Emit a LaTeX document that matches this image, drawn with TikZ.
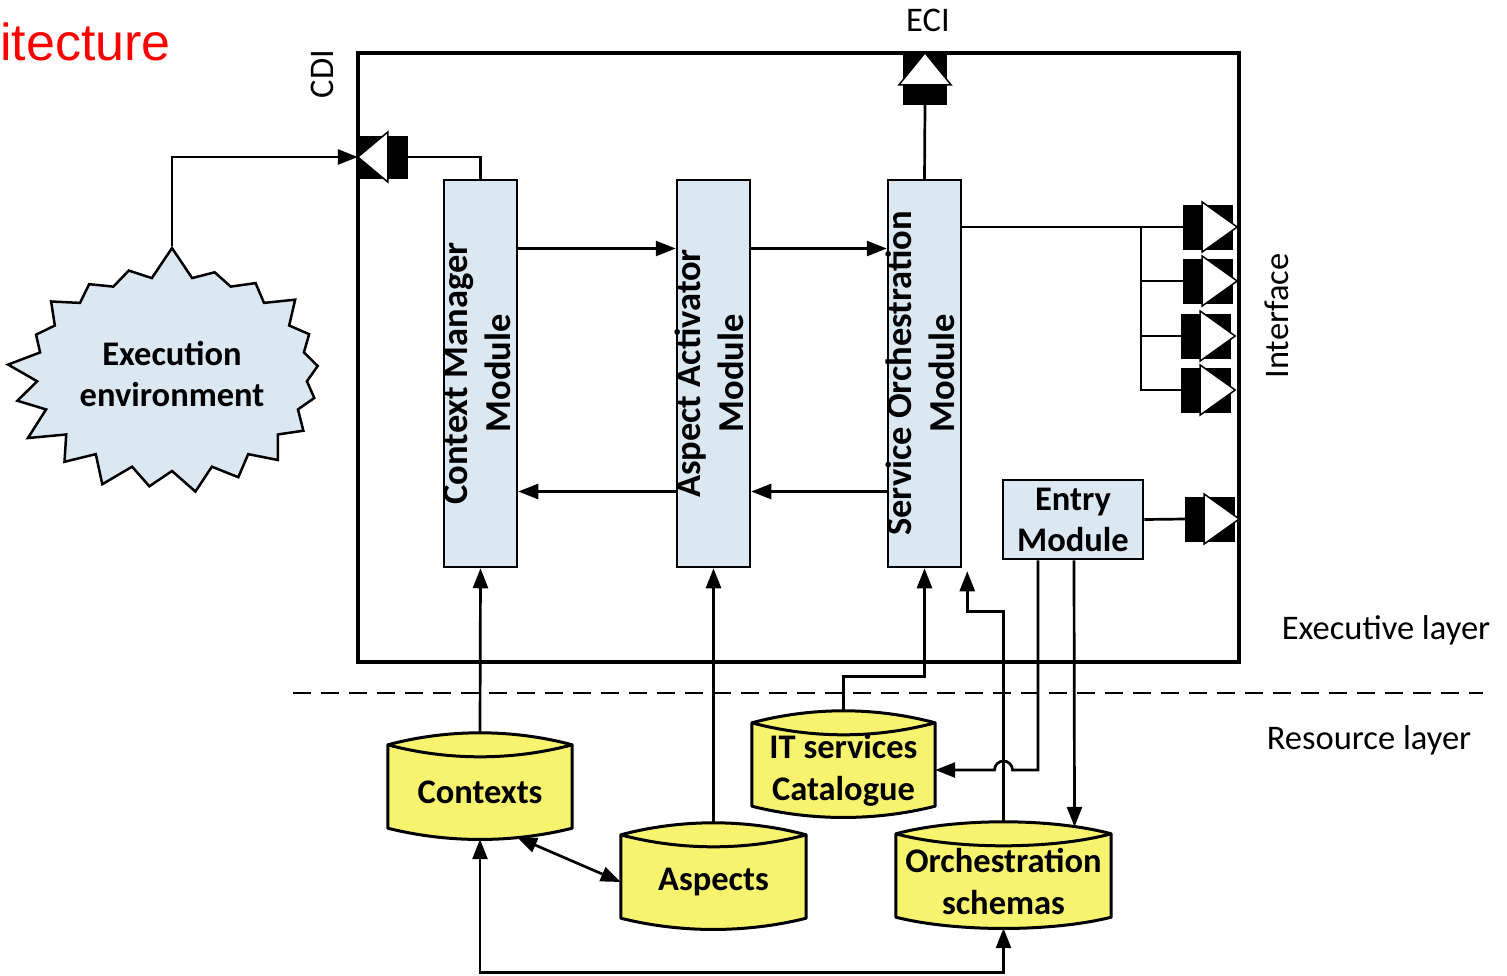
\documentclass[tikz,border=0pt]{standalone}
\usepackage{fontspec}
\setmainfont{Carlito}
\newfontfamily\titlefont{Liberation Sans}
\usepackage{graphicx}
\usetikzlibrary{arrows.meta,shapes.symbols,calc,backgrounds}

\definecolor{modblue}{RGB}{219,232,242}
\definecolor{dbyellow}{RGB}{248,243,110}

% two-line label turned upright, kept out of the node size
\newcommand{\vlabel}[1]{\makebox[0pt]{\rotatebox{90}{\begin{tabular}{@{}c@{}}#1\end{tabular}}}}

\tikzset{
  module/.style={draw, line width=2.5pt, fill=modblue, minimum width=73pt, minimum height=387pt,
    inner sep=0pt, font=\fontsize{36.5}{43}\selectfont\bfseries},
  db/.style={minimum height=94pt, inner sep=0pt, align=center,
    font=\fontsize{34.5}{42}\selectfont\bfseries},
  dbline/.style={draw=black, line width=3pt, line join=round},
  port/.style={fill=black, minimum width=50pt, minimum height=45pt, inner sep=0pt},
  link/.style={line width=2.7pt},
  lbl/.style={font=\fontsize{34.5}{40}\selectfont},
}

\begin{document}
\begin{tikzpicture}[x=1pt,y=-1pt,>={Triangle[length=20pt,width=15pt]}]
  \useasboundingbox (0,0) rectangle (1507,975);

  \node[anchor=base east, text=red, inner sep=0pt, font=\titlefont\fontsize{52}{60}\selectfont] (title) at (171,60) {itecture};

  % executive layer frame
  \draw[line width=4.7pt] (358,53) rectangle (1239,662);

  % ports on the frame
  \node[port, minimum width=44pt, minimum height=52pt] (eci) at (925,79) {};
  \node[port, minimum height=43pt] (cdi) at (383,157) {};
  \node[port] (if1) at (1208,227) {};
  \node[port] (if2) at (1208,281) {};
  \node[port] (if3) at (1206,336) {};
  \node[port] (if4) at (1206,390) {};
  \node[port] (if5) at (1210,519) {};
  \filldraw[fill=white, line width=1.5pt] (cdi.west) -- ++(30,-25) -- ++(0,50) -- cycle;
  \filldraw[fill=white, line width=1.5pt] (eci.north) -- ++(26,32) -- ++(-52,0) -- cycle;
  \foreach \p in {if1,if2,if3,if4,if5}
    \filldraw[fill=white, line width=1.5pt] (\p.east) ++(4,0) -- ++(-35,-25) -- ++(0,50) -- cycle;

  % modules
  \node[module] (cmm) at (480.5,373.5) {\vlabel{Context Manager\\Module}};
  \node[module] (aam) at (713.5,373.5) {\vlabel{Aspect Activator\\Module}};
  \node[module] (som) at (924.5,373.5) {\vlabel{Service Orchestration\\Module}};
  \node[draw, line width=2.5pt, fill=modblue, minimum width=140pt, minimum height=79pt, inner sep=0pt,
    align=center, font=\fontsize{34.5}{41}\selectfont\bfseries] (entry) at (1073,519.5) {Entry\\Module};

  \node[starburst, draw, line width=2.5pt, fill=modblue, starburst points=21, starburst point height=32pt,
    random starburst=7, minimum width=312pt, minimum height=258pt, align=center,
    font=\fontsize{34.5}{41}\selectfont\bfseries] (exe) at (172,374) {Execution\\environment};

  % resource layer stores
  \node[db, minimum width=184pt] (ctx) at (480,792) {Contexts};
  \node[db, minimum width=185pt] (asp) at (713.5,882) {Aspects};
  \node[db, minimum width=183pt] (its) at (843.5,770) {IT services\\Catalogue};
  \node[db, minimum width=215pt] (orch) at (1003.5,881) {Orchestration\\schemas};
  \begin{scope}[on background layer]
    \foreach \n in {ctx,asp,its,orch}{
      \path[dbline, fill=dbyellow] (\n.north west) .. controls +(60,-16) and +(-60,-16) .. (\n.north east)
        -- ([yshift=11pt]\n.south east) .. controls +(-60,15) and +(60,15) .. ([yshift=11pt]\n.south west) -- cycle;
      \path[dbline] (\n.north west) .. controls +(60,16) and +(-60,16) .. (\n.north east);
    }
  \end{scope}

  % connectors
  \draw[link,->] (exe.north) |- (cdi.west);
  \draw[link] (cdi.east) -| (cmm.north);
  \draw[link] (som.north) -- (eci.south);
  \draw[link,->] ([yshift=125pt]cmm.east) -- ([yshift=125pt]aam.west);
  \draw[link,->] ([yshift=125pt]aam.east) -- ([yshift=125pt]som.west);
  \draw[link,->] ([yshift=-118pt]aam.west) -- ([yshift=-118pt]cmm.east);
  \draw[link,->] ([yshift=-118pt]som.west) -- ([yshift=-118pt]aam.east);

  \coordinate (bus) at (1141,227);
  \draw[link] (som.east |- if1) -- (if1.west);
  \foreach \p in {if2,if3,if4}
    \draw[link] (bus) |- (\p.west);
  \draw[link] (entry.east) -- (if5.west);

  \draw[link,->] ([yshift=12pt]ctx.north) -- (cmm.south);
  \draw[link,->] ([yshift=12pt]asp.north) -- (aam.south);
  \draw[link,->] ([yshift=11pt]its.north) -- ++(0,-35) -| (som.south);
  \draw[link,->] ([yshift=12pt]orch.north) -- ++(0,-210) -| ([shift={(5,3)}]som.south east);
  \coordinate (hop) at (orch.north |- its.east);
  \draw[link,->] ([xshift=-35pt]entry.south) |- ([xshift=9pt]hop) arc[start angle=0, end angle=180, radius=9pt] -- (its.east);
  \draw[link,->] ([xshift=1pt]entry.south) -- ([xshift=71pt,yshift=7pt]orch.north);
  \draw[link,<->] ([shift={(37,-2)}]ctx.south) -- (asp.west);
  \draw[link,<->] (ctx.south) -- ++(0,133) -| (orch.south);

  % layer boundary
  \draw[line width=2.5pt, dash pattern=on 18pt off 10pt] (293,693) -- (1483,693);

  \node[lbl, rotate=90] (cdilbl) at (322,74) {CDI};
  \node[lbl] (ecilbl) at (928,20) {ECI};
  \node[lbl, rotate=90] (iflbl) at (1277,316) {Interface};
  \node[lbl] (exlbl) at (1386,630) {Executive layer};
  \node[lbl] (rslbl) at (1369,740) {Resource layer};
\end{tikzpicture}
\end{document}
